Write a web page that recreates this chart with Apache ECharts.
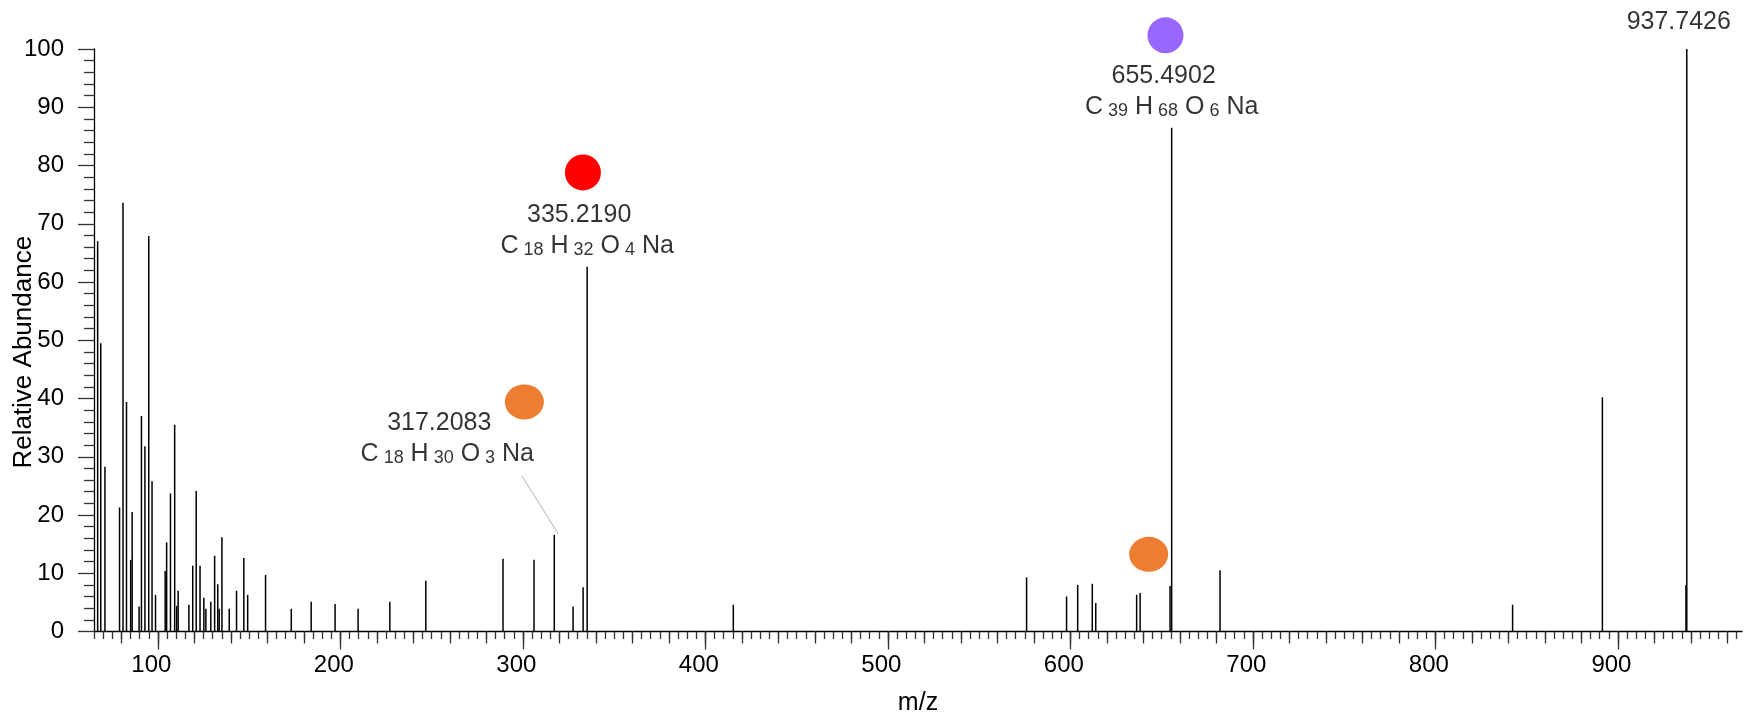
<!DOCTYPE html>
<html>
<head>
<meta charset="utf-8">
<script src="https://cdn.jsdelivr.net/npm/echarts@6/dist/echarts.min.js"></script>
<style>
  html, body { margin: 0; padding: 0; background: #fff; }
  #chart { width: 1745px; height: 712px; }
</style>
</head>
<body>
<div id="chart"></div>
<script>
// ---- data ----
const peakMz = [67.0, 68.7, 71.0, 79.0, 80.9, 82.8, 85.1, 85.9, 89.7, 91.0, 92.9, 95.0, 96.8, 98.7,
  104.0, 104.8, 106.9, 109.2, 110.3, 111.1, 117.0, 119.1, 121.0, 123.1, 125.2, 126.3, 129.0, 131.1,
  132.8, 133.6, 135.1, 139.1, 143.1, 147.1, 149.2, 159.0, 173.1, 184.0, 197.1, 209.7, 227.1, 246.8,
  289.1, 306.1, 317.2083, 327.5, 333.0, 335.2190, 415.3, 576.0, 597.9, 604.0, 612.0, 613.9, 636.3,
  638.2, 654.6, 655.4902, 682.0, 842.3, 891.5, 937.3, 937.7426];
const peakInt = [67, 49.5, 28.3, 21.3, 73.6, 39.4, 12.3, 20.5, 4.3, 37.0, 31.8, 67.9, 25.8, 6.3,
  10.4, 15.3, 23.7, 35.5, 4.4, 7.0, 4.6, 11.3, 24.1, 11.3, 5.8, 3.9, 5.1, 13.0,
  8.1, 3.9, 16.2, 3.9, 7.0, 12.6, 6.3, 9.7, 3.9, 5.1, 4.7, 3.9, 5.1, 8.7,
  12.5, 12.3, 16.6, 4.3, 7.6, 62.6, 4.6, 9.3, 6.0, 8.0, 8.2, 4.9, 6.3,
  6.6, 7.8, 86.5, 10.5, 4.6, 40.2, 8.0, 100];

// annotated peaks
const annMz = [335.2190, 655.4902, 937.7426, 317.2083];
const annText = ['335.2190', '655.4902', '937.7426', '317.2083'];
const annFormula = [
  [['C', '18'], ['H', '32'], ['O', '4'], ['Na', '']],
  [['C', '39'], ['H', '68'], ['O', '6'], ['Na', '']],
  [],
  [['C', '18'], ['H', '30'], ['O', '3'], ['Na', '']]
];

// marker circles (m/z, relative abundance)
const circleMz = [332.9, 652.1, 300.8, 642.9];
const circleY = [78.8, 102.35, 39.4, 13.25];
const circleKind = ['red', 'purple', 'orange', 'orange'];

// leader line for 317.2083 label
const leaderMz = [299.5, 319.5];
const leaderY = [26.7, 16.7];

// axis tick labels
const xTickLabels = [100, 200, 300, 400, 500, 600, 700, 800, 900];
const yTickLabels = [0, 10, 20, 30, 40, 50, 60, 70, 80, 90, 100];

// ---- styles ----
const FONT = 'Liberation Sans, Arial, Helvetica, sans-serif';
const X_MIN = 65, X_MAX = 968;
const circleColor = { red: '#FF0000', purple: '#9966FF', orange: '#ED7D31' };
const circleSize = { red: [36, 36], purple: [36, 36], orange: [39, 35] };

const medTicks = [];
for (let v = 80; v <= X_MAX; v += 20) medTicks.push(v);
const minorTicks = [];
for (let v = X_MIN; v <= X_MAX; v += 5) minorTicks.push(v);

function formulaRich(parts) {
  return parts.map(function (p, i) {
    return '{m|' + (i ? ' ' : '') + p[0] + '}' + (p[1] ? '{s|' + p[1] + '}' : '');
  }).join('');
}

const peaks = peakMz.map(function (m, i) { return [m, peakInt[i]]; });

function intensityAt(mz) {
  const i = peakMz.indexOf(mz);
  return peakInt[i];
}

const labelPlacement = {
  '335.2190': { distance: 5, offset: [0, 0] },
  '655.4902': { distance: 5, offset: [0, 0] },
  '937.7426': { distance: 11, offset: [0, 0] },
  '317.2083': { distance: 65, offset: [-107, 0] }
};

const annData = annMz.map(function (m, i) {
  const txt = '{n|' + annText[i] + '}' + (annFormula[i].length ? '\n' + formulaRich(annFormula[i]) : '');
  const pl = labelPlacement[annText[i]];
  return {
    value: [m, intensityAt(m)],
    label: { formatter: txt, distance: pl.distance, offset: pl.offset }
  };
});

const richStyles = {
  n: { fontSize: 25, lineHeight: 31, fontFamily: FONT, color: '#000', padding: [0, 16, 0, 0] },
  m: { fontSize: 25, lineHeight: 31, fontFamily: FONT, color: '#000' },
  s: { fontSize: 18, lineHeight: 23, fontFamily: FONT, color: '#000', verticalAlign: 'bottom', padding: [0, 0, 2, 5] }
};

const circleSeries = ['red', 'purple', 'orange'].map(function (kind) {
  const data = [];
  circleMz.forEach(function (m, i) { if (circleKind[i] === kind) data.push([m, circleY[i]]); });
  return {
    type: 'scatter', name: kind, data: data, clip: false, silent: true,
    symbol: 'circle', symbolSize: circleSize[kind],
    itemStyle: { color: circleColor[kind], opacity: 1 },
    z: 5
  };
});

const chart = echarts.init(document.getElementById('chart'), null, { renderer: 'canvas' });
chart.setOption({
  animation: false,
  backgroundColor: '#fff',
  grid: { left: 94, right: 3, top: 49, bottom: 80.5, containLabel: false, outerBoundsMode: 'none' },
  xAxis: [
    {
      type: 'value', min: X_MIN, max: X_MAX,
      name: 'm/z', nameLocation: 'middle', nameGap: 59, nameMoveOverlap: false,
      nameTextStyle: { fontSize: 25, fontFamily: FONT, color: '#000' },
      axisLine: { show: true, lineStyle: { color: '#000', width: 1.3 } },
      axisTick: { show: true, customValues: xTickLabels, length: 18, lineStyle: { color: '#333', width: 1.3 } },
      axisLabel: { show: true, customValues: xTickLabels, fontSize: 24, fontFamily: FONT, color: '#000', margin: 22, padding: [0, 13, 0, 0] },
      splitLine: { show: false }
    },
    {
      type: 'value', min: X_MIN, max: X_MAX, position: 'bottom',
      axisLine: { show: false },
      axisTick: { show: true, customValues: medTicks, length: 12, lineStyle: { color: '#333', width: 1.3 } },
      axisLabel: { show: false },
      splitLine: { show: false }
    },
    {
      type: 'value', min: X_MIN, max: X_MAX, position: 'bottom',
      axisLine: { show: false },
      axisTick: { show: true, customValues: minorTicks, length: 7.5, lineStyle: { color: '#333', width: 1.3 } },
      axisLabel: { show: false },
      splitLine: { show: false }
    }
  ],
  yAxis: {
    type: 'value', min: yTickLabels[0], max: yTickLabels[yTickLabels.length - 1], interval: 10,
    name: 'Relative Abundance', nameLocation: 'middle', nameGap: 57, nameMoveOverlap: false,
    nameTextStyle: { fontSize: 26, fontFamily: FONT, color: '#000', padding: [0, 24, 0, 0] },
    axisLine: { show: true, lineStyle: { color: '#000', width: 1.3 } },
    axisTick: { show: true, length: 16, lineStyle: { color: '#333', width: 1.3 } },
    minorTick: { show: true, splitNumber: 5, length: 10, lineStyle: { color: '#333', width: 1.3 } },
    axisLabel: { fontSize: 24, fontFamily: FONT, color: '#000', margin: 30, padding: [6, 0, 0, 0] },
    splitLine: { show: false }
  },
  series: [
    {
      type: 'custom', name: 'peaks', data: peaks, xAxisIndex: 0, yAxisIndex: 0, silent: true,
      encode: { x: 0, y: 1 },
      renderItem: function (params, api) {
        const x = api.value(0), y = api.value(1);
        const p0 = api.coord([x, 0]);
        const p1 = api.coord([x, y]);
        return {
          type: 'line',
          shape: { x1: p0[0], y1: p0[1], x2: p1[0], y2: p1[1] },
          style: { stroke: '#000', lineWidth: 1.5 }
        };
      },
      z: 3
    },
    {
      type: 'line', name: 'leader', data: leaderMz.map(function (m, i) { return [m, leaderY[i]]; }),
      symbol: 'none', silent: true, clip: false,
      lineStyle: { color: '#c4c4c4', width: 1.2 }, z: 2
    },
    {
      type: 'scatter', name: 'annotations', data: annData, clip: false, silent: true,
      symbol: 'circle', symbolSize: 1, itemStyle: { color: 'rgba(0,0,0,0)' },
      label: { show: true, position: 'top', align: 'center', color: '#000', fontFamily: FONT, fontSize: 25, rich: richStyles },
      z: 6
    }
  ].concat(circleSeries)
});
</script>
</body>
</html>
